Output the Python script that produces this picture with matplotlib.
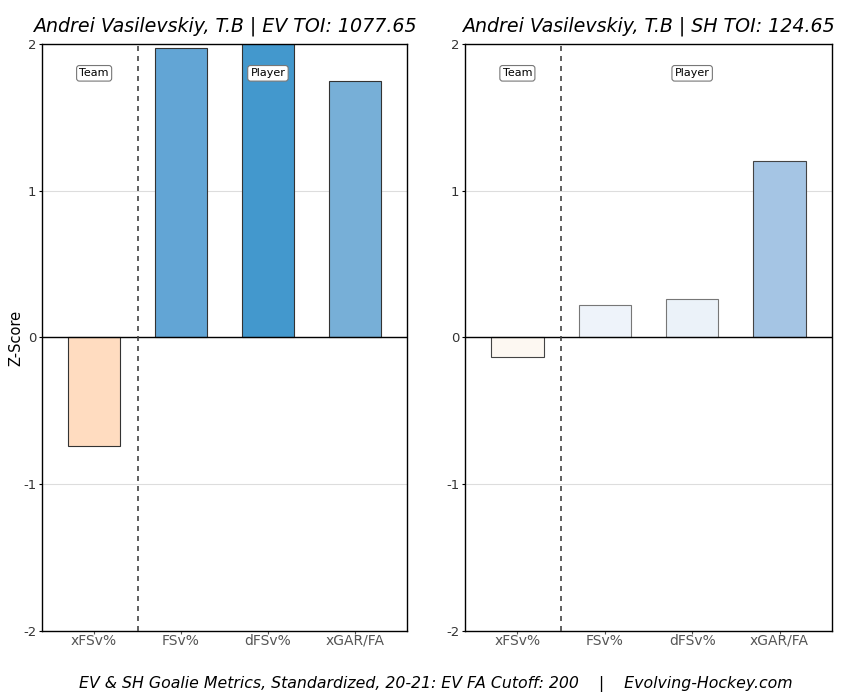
import matplotlib
matplotlib.use('Agg')
import matplotlib.pyplot as plt

plt.rcParams['axes.unicode_minus'] = False

# data
metrics = ['xFSv%', 'FSv%', 'dFSv%', 'xGAR/FA']
ev_vals = [-0.74, 1.97, 2.1, 1.75]
sh_vals = [-0.13, 0.22, 0.26, 1.20]
ev_colors = ['#ffdcc0', '#62a5d5', '#4398cd', '#77afd7']
sh_colors = ['#fdf8f2', '#eef3fa', '#ebf2f9', '#a5c5e4']
ev_edges = ['#333333', '#333333', '#333333', '#333333']
sh_edges = ['#444444', '#777777', '#777777', '#444444']
titles = ['Andrei Vasilevskiy, T.B | EV TOI: 1077.65',
          'Andrei Vasilevskiy, T.B | SH TOI: 124.65']
footer = 'EV & SH Goalie Metrics, Standardized, 20-21: EV FA Cutoff: 200    |    Evolving-Hockey.com'

fig = plt.figure(figsize=(8.5, 7), dpi=100)
ax1 = fig.add_axes([0.0494, 0.0986, 0.4294, 0.8386])
ax2 = fig.add_axes([0.547, 0.0986, 0.4318, 0.8386])

for ax, vals, cols, edges, title in [(ax1, ev_vals, ev_colors, ev_edges, titles[0]),
                                     (ax2, sh_vals, sh_colors, sh_edges, titles[1])]:
    x = range(len(metrics))
    ax.grid(axis='y', color='#dddddd', linewidth=0.8, zorder=0)
    ax.bar(x, vals, width=0.6, color=cols, edgecolor=edges, linewidth=0.8, zorder=2)
    ax.axhline(0, color='black', linewidth=1, zorder=3)
    ax.axvline(0.5, color='#444444', linestyle=(0, (3, 3)), linewidth=1.2, zorder=3)
    ax.set_xlim(-0.6, 3.6)
    ax.set_ylim(-2, 2)
    ax.set_yticks([-2, -1, 0, 1, 2])
    ax.set_xticks(list(x))
    ax.set_xticklabels(metrics)
    ax.tick_params(axis='x', colors='#555555', labelsize=10, length=2, pad=0)
    ax.tick_params(axis='y', labelsize=9.5, labelcolor='#333333', length=2, pad=2)
    ax.set_title(title, fontsize=13.7, style='italic', pad=9)
    box = dict(boxstyle='round,pad=0.25', facecolor='white', edgecolor='#777777', linewidth=0.8)
    ax.text(0, 1.8, 'Team', ha='center', va='center', fontsize=8, bbox=box, zorder=4)
    ax.text(2, 1.8, 'Player', ha='center', va='center', fontsize=8, bbox=box, zorder=4)
    for s in ax.spines.values():
        s.set_linewidth(1)

ax1.set_ylabel('Z-Score', fontsize=10.5, labelpad=0)

fig.text(0.513, 0.023, footer, ha='center', va='center', fontsize=11.3, style='italic')
fig.savefig('out.png', dpi=100)
